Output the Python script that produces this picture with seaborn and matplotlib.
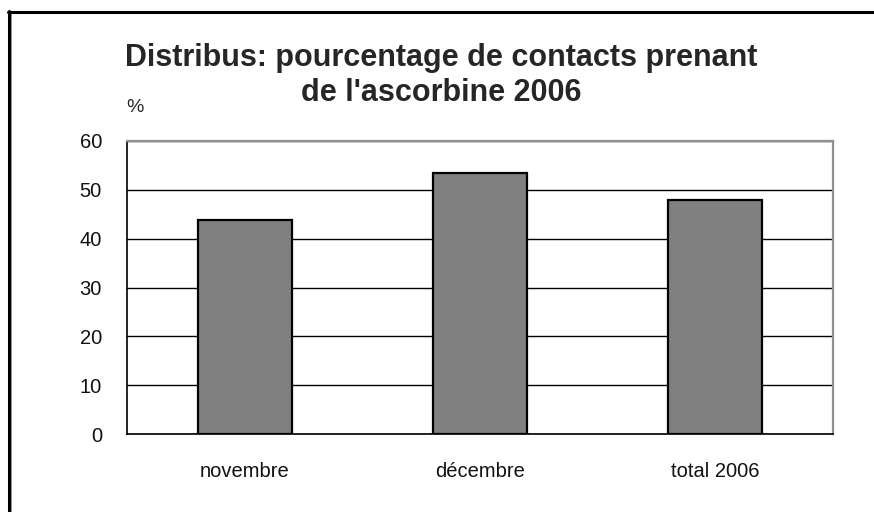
import pandas as pd
import seaborn as sns
import matplotlib.pyplot as plt
from matplotlib.lines import Line2D

categories = ['novembre', 'décembre', 'total 2006']
pourcentages = [43.8, 53.5, 48.0]
y_ticks = [0, 10, 20, 30, 40, 50, 60]

df = pd.DataFrame({'periode': categories, 'pct': pourcentages})

sns.set_style('white')
plt.rcParams['font.family'] = ['Liberation Sans', 'DejaVu Sans']

W, H = 874, 512
fig = plt.figure(figsize=(W / 100, H / 100), dpi=100)
ax = fig.add_axes([127 / W, 1 - 434 / H, (833 - 127) / W, (434 - 141) / H])

sns.barplot(x='periode', y='pct', data=df, ax=ax, color='#808080',
            saturation=1, edgecolor='black', linewidth=1.6, width=0.4)

ax.set_ylim(0, 60)
ax.set_xlim(-0.5, 2.5)
ax.set_yticks(y_ticks)
ax.yaxis.grid(True, color='black', linewidth=1)
ax.set_axisbelow(True)
ax.set_xlabel('')
ax.set_ylabel('')

# category separators on the x axis
ax.set_xticks([-0.5, 0.5, 1.5, 2.5], minor=True)
ax.tick_params(axis='x', which='major', length=0, pad=20, labelsize=14.5)
ax.tick_params(axis='x', which='minor', length=5, width=1, direction='out')
ax.tick_params(axis='y', length=6, width=1, direction='out', pad=12, labelsize=14.5)
ax.tick_params(axis='both', which='both', color='black', labelcolor='#111111')

for side in ['left', 'bottom']:
    ax.spines[side].set_color('black')
    ax.spines[side].set_linewidth(1.2)
for side in ['top', 'right']:
    ax.spines[side].set_color('#909090')
    ax.spines[side].set_linewidth(1.6)

fig.text(441 / W, 1 - 66 / H, "Distribus: pourcentage de contacts prenant",
         ha='center', va='baseline', fontsize=22, fontweight='bold')
fig.text(441 / W, 1 - 101 / H, "de l'ascorbine 2006",
         ha='center', va='baseline', fontsize=22, fontweight='bold')
fig.text(135 / W, 1 - 108 / H, '%', ha='center', va='center', fontsize=14)

# outer frame (left and top edges only, as in the reference)
fig.add_artist(Line2D([10.5 / W, 10.5 / W], [0, 1 - 12 / H], transform=fig.transFigure,
                      color='#808080', linewidth=1.2))
fig.add_artist(Line2D([10 / W, 1], [1 - 13 / H, 1 - 13 / H], transform=fig.transFigure,
                      color='#808080', linewidth=1.2))
fig.add_artist(Line2D([9 / W, 9 / W], [0, 1 - 11 / H], transform=fig.transFigure,
                      color='black', linewidth=2.2))
fig.add_artist(Line2D([8 / W, 1], [1 - 12 / H, 1 - 12 / H], transform=fig.transFigure,
                      color='black', linewidth=2.2))

fig.savefig('out.png', dpi=100, facecolor='white')
